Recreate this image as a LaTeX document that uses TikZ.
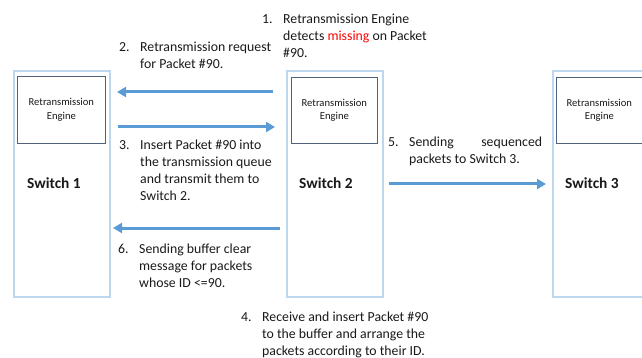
\documentclass[tikz,border=0pt]{standalone}
\usepackage{fontspec}
\setmainfont{Carlito}
\usetikzlibrary{arrows.meta}
\definecolor{swborder}{RGB}{189,215,238}
\definecolor{engborder}{RGB}{80,98,124}
\definecolor{flow}{RGB}{91,155,213}
\definecolor{txt}{RGB}{25,25,25}
\begin{document}
\begin{tikzpicture}[x=1pt,y=-1pt,
  switchbox/.style={draw=swborder, line width=1.8pt, fill=white, anchor=north west, inner sep=0pt},
  engine/.style={draw=engborder, line width=0.7pt, fill=white, align=center, anchor=north west,
    inner sep=0pt, font=\fontsize{10.6}{13.8}\selectfont, text=txt},
  swlabel/.style={font=\fontsize{15.4}{18}\selectfont\bfseries, anchor=west, inner sep=0pt, text=txt},
  callout/.style={anchor=base west, inner sep=0pt, font=\fontsize{13.8}{17}\selectfont, text=txt},
  flowarrow/.style={draw=flow, line width=3pt, -{Triangle[length=9pt,width=10pt]}}]
\clip (0,0) rectangle (642,358);

% switches
\node[switchbox, minimum width=96pt, minimum height=226pt] (s1) at (13,70) {};
\node[switchbox, minimum width=96pt, minimum height=226pt] (s2) at (286,70) {};
\node[switchbox, minimum width=96pt, minimum height=226pt] (s3) at (552,70) {};

% retransmission engines
\node[engine, minimum width=88pt, minimum height=67pt] (e1) at (17,76) {Retransmission\\Engine};
\node[engine, minimum width=86pt, minimum height=66pt] (e2) at (291,77) {Retransmission\\Engine};
\node[engine, minimum width=86pt, minimum height=66pt] (e3) at (556,77) {Retransmission\\Engine};

% switch names
\node[swlabel] (l1) at (27,183) {Switch 1};
\node[swlabel] (l2) at (299,183) {Switch 2};
\node[swlabel] (l3) at (565,183) {Switch 3};

% arrow end points
\coordinate (a2s) at (273,92);  \coordinate (a2e) at (117,92);
\coordinate (a3s) at (118,127); \coordinate (a3e) at (275,127);
\coordinate (a6s) at (280,228); \coordinate (a6e) at (113,228);
\coordinate (a5s) at (389,184); \coordinate (a5e) at (546,184);
\draw[flowarrow] (a2s) -- (a2e);
\draw[flowarrow] (a3s) -- (a3e);
\draw[flowarrow] (a6s) -- (a6e);
\draw[flowarrow] (a5s) -- (a5e);

% numbered steps
\node[callout] (t1) at (262,24) {\begin{tabular}[t]{@{}p{21pt}@{}l@{}}
1.&Retransmission Engine\\
&detects \textcolor{red}{missing} on Packet\\
&\#90.\end{tabular}};
\node[callout] (t2) at (119,52) {\begin{tabular}[t]{@{}p{21pt}@{}l@{}}
2.&Retransmission request\\
&for Packet \#90.\end{tabular}};
\node[callout] (t3) at (119,150) {\begin{tabular}[t]{@{}p{21pt}@{}l@{}}
3.&Insert Packet \#90 into\\
&the transmission queue\\
&and transmit them to\\
&Switch 2.\end{tabular}};
\node[callout] (t4) at (241,321) {\begin{tabular}[t]{@{}p{21pt}@{}l@{}}
4.&Receive and insert Packet \#90\\
&to the buffer and arrange the\\
&packets according to their ID.\end{tabular}};
\node[callout] (t5) at (388,147) {\begin{tabular}[t]{@{}p{21pt}@{}l@{}}
5.&\hbox to 133pt{Sending\hfill sequenced}\\
&packets to Switch 3.\end{tabular}};
\node[callout] (t6) at (118,253) {\begin{tabular}[t]{@{}p{21pt}@{}l@{}}
6.&Sending buffer clear\\
&message for packets\\
&whose ID <=90.\end{tabular}};
\end{tikzpicture}
\end{document}
